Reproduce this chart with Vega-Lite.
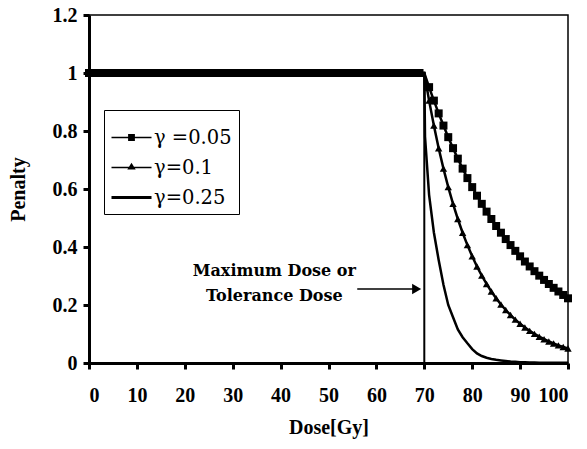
{
  "$schema": "https://vega.github.io/schema/vega-lite/v6.json",
  "width": 479,
  "height": 348,
  "autosize": "none",
  "padding": {"left": 89, "top": 15, "right": 19, "bottom": 86},
  "background": "white",
  "config": {
    "view": {"stroke": "black", "strokeWidth": 1.5},
    "font": "Liberation Serif",
    "axis": {
      "domainColor": "black", "domainWidth": 3,
      "tickColor": "black", "tickWidth": 3, "tickSize": 6,
      "labelFont": "Liberation Serif", "labelFontSize": 20, "labelFontWeight": "bold", "labelColor": "black",
      "titleFont": "Liberation Serif", "titleFontSize": 20, "titleFontWeight": "bold", "titleColor": "black",
      "grid": false
    }
  },
  "datasets": {
    "curves": [
      {"d":0,"a":1,"b":1,"c":1},{"d":1,"a":1,"b":1,"c":1},{"d":2,"a":1,"b":1,"c":1},{"d":3,"a":1,"b":1,"c":1},{"d":4,"a":1,"b":1,"c":1},
      {"d":5,"a":1,"b":1,"c":1},{"d":6,"a":1,"b":1,"c":1},{"d":7,"a":1,"b":1,"c":1},{"d":8,"a":1,"b":1,"c":1},{"d":9,"a":1,"b":1,"c":1},
      {"d":10,"a":1,"b":1,"c":1},{"d":11,"a":1,"b":1,"c":1},{"d":12,"a":1,"b":1,"c":1},{"d":13,"a":1,"b":1,"c":1},{"d":14,"a":1,"b":1,"c":1},
      {"d":15,"a":1,"b":1,"c":1},{"d":16,"a":1,"b":1,"c":1},{"d":17,"a":1,"b":1,"c":1},{"d":18,"a":1,"b":1,"c":1},{"d":19,"a":1,"b":1,"c":1},
      {"d":20,"a":1,"b":1,"c":1},{"d":21,"a":1,"b":1,"c":1},{"d":22,"a":1,"b":1,"c":1},{"d":23,"a":1,"b":1,"c":1},{"d":24,"a":1,"b":1,"c":1},
      {"d":25,"a":1,"b":1,"c":1},{"d":26,"a":1,"b":1,"c":1},{"d":27,"a":1,"b":1,"c":1},{"d":28,"a":1,"b":1,"c":1},{"d":29,"a":1,"b":1,"c":1},
      {"d":30,"a":1,"b":1,"c":1},{"d":31,"a":1,"b":1,"c":1},{"d":32,"a":1,"b":1,"c":1},{"d":33,"a":1,"b":1,"c":1},{"d":34,"a":1,"b":1,"c":1},
      {"d":35,"a":1,"b":1,"c":1},{"d":36,"a":1,"b":1,"c":1},{"d":37,"a":1,"b":1,"c":1},{"d":38,"a":1,"b":1,"c":1},{"d":39,"a":1,"b":1,"c":1},
      {"d":40,"a":1,"b":1,"c":1},{"d":41,"a":1,"b":1,"c":1},{"d":42,"a":1,"b":1,"c":1},{"d":43,"a":1,"b":1,"c":1},{"d":44,"a":1,"b":1,"c":1},
      {"d":45,"a":1,"b":1,"c":1},{"d":46,"a":1,"b":1,"c":1},{"d":47,"a":1,"b":1,"c":1},{"d":48,"a":1,"b":1,"c":1},{"d":49,"a":1,"b":1,"c":1},
      {"d":50,"a":1,"b":1,"c":1},{"d":51,"a":1,"b":1,"c":1},{"d":52,"a":1,"b":1,"c":1},{"d":53,"a":1,"b":1,"c":1},{"d":54,"a":1,"b":1,"c":1},
      {"d":55,"a":1,"b":1,"c":1},{"d":56,"a":1,"b":1,"c":1},{"d":57,"a":1,"b":1,"c":1},{"d":58,"a":1,"b":1,"c":1},{"d":59,"a":1,"b":1,"c":1},
      {"d":60,"a":1,"b":1,"c":1},{"d":61,"a":1,"b":1,"c":1},{"d":62,"a":1,"b":1,"c":1},{"d":63,"a":1,"b":1,"c":1},{"d":64,"a":1,"b":1,"c":1},
      {"d":65,"a":1,"b":1,"c":1},{"d":66,"a":1,"b":1,"c":1},{"d":67,"a":1,"b":1,"c":1},{"d":68,"a":1,"b":1,"c":1},{"d":69,"a":1,"b":1,"c":1},
      {"d":70,"a":1,"b":1,"c":1},
      {"d":70.15,"c":0.78},
      {"d":71,"a":0.9512,"b":0.9048,"c":0.58},
      {"d":72,"a":0.9048,"b":0.8187,"c":0.45},
      {"d":73,"a":0.8607,"b":0.7408,"c":0.355},
      {"d":74,"a":0.8187,"b":0.6703,"c":0.27},
      {"d":75,"a":0.7788,"b":0.6065,"c":0.2},
      {"d":76,"a":0.7408,"b":0.5488,"c":0.158},
      {"d":77,"a":0.7047,"b":0.4966,"c":0.116},
      {"d":78,"a":0.6703,"b":0.4493,"c":0.089},
      {"d":79,"a":0.6376,"b":0.4066,"c":0.068},
      {"d":80,"a":0.6065,"b":0.3679,"c":0.048},
      {"d":81,"a":0.5769,"b":0.3329,"c":0.033},
      {"d":82,"a":0.5488,"b":0.3012,"c":0.024},
      {"d":83,"a":0.522,"b":0.2725,"c":0.018},
      {"d":84,"a":0.4966,"b":0.2466,"c":0.014},
      {"d":85,"a":0.4724,"b":0.2231,"c":0.011},
      {"d":86,"a":0.4493,"b":0.2019,"c":0.009},
      {"d":87,"a":0.4274,"b":0.1827,"c":0.007},
      {"d":88,"a":0.4066,"b":0.1653,"c":0.005},
      {"d":89,"a":0.3867,"b":0.1496,"c":0.004},
      {"d":90,"a":0.3679,"b":0.1353,"c":0.003},
      {"d":91,"a":0.3499,"b":0.1225,"c":0.003},
      {"d":92,"a":0.3329,"b":0.1108,"c":0.002},
      {"d":93,"a":0.3166,"b":0.1003,"c":0.002},
      {"d":94,"a":0.3012,"b":0.0907,"c":0.001},
      {"d":95,"a":0.2865,"b":0.0821,"c":0.001},
      {"d":96,"a":0.2725,"b":0.0743,"c":0.001},
      {"d":97,"a":0.2592,"b":0.0672,"c":0.001},
      {"d":98,"a":0.2466,"b":0.0608,"c":0.0005},
      {"d":99,"a":0.2346,"b":0.055,"c":0.0005},
      {"d":100,"a":0.2231,"b":0.0498,"c":0.0005}
    ],
    "notes": [
      {"label": "Maximum Dose or", "d": 38.7, "p": 0.318},
      {"label": "Tolerance Dose", "d": 38.7, "p": 0.232}
    ]
  },
  "layer": [
    {
      "data": {"values": [{"d": 70, "lo": 0, "hi": 1}]},
      "mark": {"type": "rule", "color": "black", "strokeWidth": 2},
      "encoding": {
        "x": {"field": "d", "type": "quantitative", "scale": {"domain": [0, 100], "nice": false},
              "axis": {"values": [0,10,20,30,40,50,60,70,80,90,100], "labelPadding": 16, "title": "Dose[Gy]", "titlePadding": 12}},
        "y": {"field": "lo", "type": "quantitative", "scale": {"domain": [0, 1.2], "nice": false},
              "axis": {"values": [0,0.2,0.4,0.6,0.8,1,1.2], "format": "~g", "labelPadding": 6, "title": "Penalty", "titlePadding": 24}},
        "y2": {"field": "hi"}
      }
    },
    {
      "data": {"name": "curves"},
      "transform": [{"fold": ["a", "b", "c"], "as": ["key", "value"]}, {"filter": "isValid(datum.value)"}],
      "mark": {"type": "line", "color": "black", "strokeWidth": 2.5},
      "encoding": {
        "x": {"field": "d", "type": "quantitative"},
        "y": {"field": "value", "type": "quantitative"},
        "detail": {"field": "key"}
      }
    },
    {
      "data": {"name": "curves"},
      "transform": [{"filter": "datum.d != 70 && isValid(datum.a)"}],
      "mark": {"type": "point", "shape": "square", "filled": true, "color": "black", "opacity": 1, "size": 64},
      "encoding": {
        "x": {"field": "d", "type": "quantitative"},
        "y": {"field": "a", "type": "quantitative"}
      }
    },
    {
      "data": {"name": "curves"},
      "transform": [{"filter": "datum.d != 70 && isValid(datum.b)"}],
      "mark": {"type": "point", "shape": "triangle-up", "filled": true, "color": "black", "opacity": 1, "size": 55},
      "encoding": {
        "x": {"field": "d", "type": "quantitative"},
        "y": {"field": "b", "type": "quantitative"}
      }
    },
    {
      "data": {"name": "curves"},
      "transform": [{"fold": ["a", "b", "c"], "as": ["key", "value"]}, {"filter": "datum.d < 0"}],
      "mark": {"type": "point", "filled": true, "color": "black", "opacity": 1, "size": 1600, "strokeWidth": 1},
      "encoding": {
        "x": {"field": "d", "type": "quantitative"},
        "y": {"field": "value", "type": "quantitative"},
        "shape": {
          "field": "key", "type": "nominal",
          "scale": {"domain": ["a", "b", "c"], "range": [
            "M-1,-0.04H1V0.04H-1ZM-0.17,-0.17H0.17V0.17H-0.17Z",
            "M-1,-0.04H1V0.04H-1ZM0,-0.24L0.21,0.1H-0.21Z",
            "M-1,-0.075H1V0.075H-1Z"
          ]},
          "legend": {
            "orient": "none", "legendX": 15, "legendY": 95,
            "title": null,
            "strokeColor": "black", "fillColor": "white",
            "padding": 7,
            "symbolSize": 1600,
            "symbolStrokeWidth": 1,
            "symbolFillColor": "black",
            "symbolStrokeColor": "black",
            "rowPadding": 0,
            "labelFont": "DejaVu Serif", "labelFontSize": 19.5, "labelColor": "black",
            "labelOffset": 2,
            "labelExpr": "datum.label == 'a' ? 'γ =0.05' : datum.label == 'b' ? 'γ=0.1' : 'γ=0.25'"
          }
        }
      }
    },
    {
      "data": {"values": [{"x1": 56, "x2": 68.5, "p": 0.255}]},
      "mark": {"type": "rule", "color": "black", "strokeWidth": 1.5},
      "encoding": {
        "x": {"field": "x1", "type": "quantitative"},
        "x2": {"field": "x2"},
        "y": {"field": "p", "type": "quantitative"}
      }
    },
    {
      "data": {"values": [{"x": 68.4, "p": 0.255}]},
      "mark": {"type": "point", "shape": "triangle-right", "filled": true, "color": "black", "opacity": 1, "size": 110},
      "encoding": {
        "x": {"field": "x", "type": "quantitative"},
        "y": {"field": "p", "type": "quantitative"}
      }
    },
    {
      "data": {"name": "notes"},
      "mark": {"type": "text", "font": "DejaVu Serif", "fontSize": 16, "fontWeight": "bold", "color": "black", "align": "center", "baseline": "middle"},
      "encoding": {
        "x": {"field": "d", "type": "quantitative"},
        "y": {"field": "p", "type": "quantitative"},
        "text": {"field": "label"}
      }
    }
  ]
}
